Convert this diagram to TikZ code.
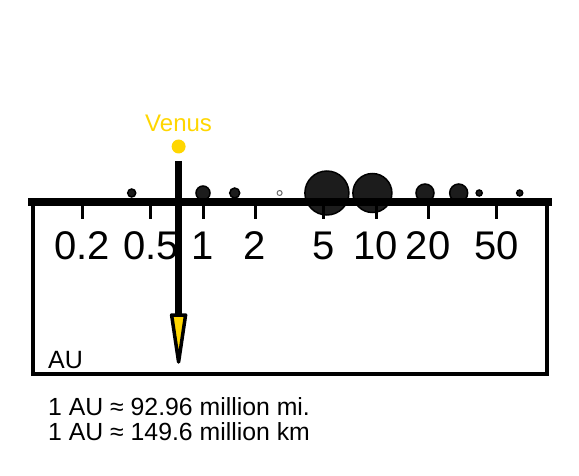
\documentclass[tikz,border=0pt]{standalone}
\usepackage{fontspec}
\setmainfont{Liberation Sans}
\usetikzlibrary{positioning}
\definecolor{venusgold}{RGB}{255,214,0}
\definecolor{planetgray}{RGB}{28,28,28}
\begin{document}
\begin{tikzpicture}[x=1pt,y=-1pt,
  planet/.style={fill=planetgray,draw=black,line width=1.5pt},
  tickmark/.style={line width=3pt},
  ticklabel/.style={anchor=base,inner sep=0pt,font=\fontsize{40}{44}\selectfont},
  notelabel/.style={anchor=base west,inner sep=0pt,font=\fontsize{24.8}{28}\selectfont}]
\useasboundingbox (0,0) rectangle (579,476);
%width=579px
%height=476px
% coordinates (x = 203 + 173*log10(AU))
\coordinate (aL) at ( 28  , 202);
\coordinate (aR) at (552  , 202);
\coordinate (fA) at ( 33  , 202);
\coordinate (fB) at ( 33  , 374);
\coordinate (fC) at (547  , 374);
\coordinate (fD) at (547  , 202);
\coordinate (t1) at ( 82.1, 202);
\coordinate (t2) at (150.9, 202);
\coordinate (t3) at (203.0, 202);
\coordinate (t4) at (255.1, 202);
\coordinate (t5) at (323.9, 202);
\coordinate (t6) at (376.0, 202);
\coordinate (t7) at (428.1, 202);
\coordinate (t8) at (496.9, 202);
\coordinate (pMe) at (131.7, 193);
\coordinate (pEa) at (203.0, 193);
\coordinate (pMa) at (234.7, 193);
\coordinate (pCe) at (279.6, 193);
\coordinate (pJu) at (326.9, 193);
\coordinate (pSa) at (372.4, 193);
\coordinate (pUr) at (425.0, 193);
\coordinate (pNe) at (458.7, 193);
\coordinate (pPl) at (479.2, 193);
\coordinate (pEr) at (519.7, 193);
\coordinate (vDot) at (178.6, 146.5);
\coordinate (vTop) at (178.6, 161);
\coordinate (vBase) at (178.6, 315);
\coordinate (vTip) at (178.6, 362);
% planets
\draw[planet] (pMe) circle (4);
\draw[planet] (pEa) circle (7);
\draw[planet] (pMa) circle (5);
\draw[fill=white,draw=gray!80!black,line width=1pt] (pCe) circle (2.5);
\draw[planet] (pJu) circle (22);
\draw[planet] (pSa) circle (19.5);
\draw[planet] (pUr) circle (9);
\draw[planet] (pNe) circle (9);
\draw[planet] (pPl) circle (3);
\draw[planet] (pEr) circle (3);
% frame and axis
\draw[line width=4.5pt] (fA) -- (fB) -- (fC) -- (fD);
\draw[line width=7.5pt] (aL) -- (aR);
\draw[tickmark] (t1) -- ++(0,17);
\draw[tickmark] (t2) -- ++(0,17);
\draw[tickmark] (t3) -- ++(0,17);
\draw[tickmark] (t4) -- ++(0,17);
\draw[tickmark] (t5) -- ++(0,17);
\draw[tickmark] (t6) -- ++(0,17);
\draw[tickmark] (t7) -- ++(0,17);
\draw[tickmark] (t8) -- ++(0,17);
\node[ticklabel] (l1) at ( 82.1, 260) {0.2};
\node[ticklabel] (l2) at (150.9, 260) {0.5};
\node[ticklabel] (l3) at (203.0, 260) {1};
\node[ticklabel] (l4) at (255.1, 260) {2};
\node[ticklabel] (l5) at (323.9, 260) {5};
\node[ticklabel] (l6) at (376.0, 260) {10};
\node[ticklabel] (l7) at (428.1, 260) {20};
\node[ticklabel] (l8) at (496.9, 260) {50};
% Venus
\fill[venusgold] (vDot) circle (7);
\node[anchor=base,inner sep=0pt,text=venusgold,font=\fontsize{24}{28}\selectfont] (vName) at (178.6, 132) {Venus};
\draw[line width=7pt] (vTop) -- (vBase);
\filldraw[fill=venusgold,draw=black,line width=3.5pt,line join=round]
  (vBase) ++(-7,0) -- ++(14,0) -- (vTip) -- cycle;
% notes
\node[notelabel,font=\fontsize{25}{28}\selectfont] (unit) at (48, 368) {AU};
\node[notelabel] (mi) at (48, 415) {1 AU ≈ 92.96 million mi.};
\node[notelabel] (km) at (48, 440) {1 AU ≈ 149.6 million km};
\end{tikzpicture}
\end{document}
